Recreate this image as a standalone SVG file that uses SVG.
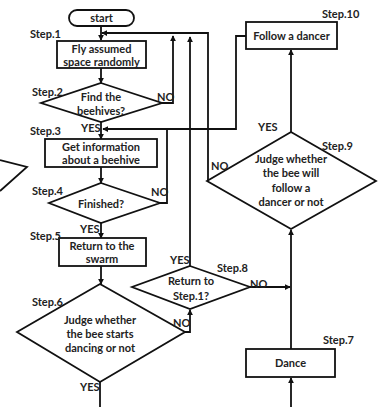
<svg xmlns="http://www.w3.org/2000/svg" width="384" height="407" viewBox="0 0 384 407">
<defs>
<marker id="ah" viewBox="0 0 8 8" refX="7" refY="4" markerWidth="6" markerHeight="6" orient="auto" markerUnits="userSpaceOnUse">
<path d="M0,0 L8,4 L0,8 z" fill="#111"/>
</marker>
<style>
.n{fill:#fff;stroke:#111;stroke-width:1.8}
.c{fill:none;stroke:#111;stroke-width:1.8}
.t{font-family:Lato,"Open Sans","Liberation Sans",sans-serif;font-weight:bold;font-size:11px;fill:#222;text-anchor:middle}
.s{font-family:Lato,"Open Sans","Liberation Sans",sans-serif;font-weight:bold;font-size:11px;fill:#222}
</style>
</defs>
<rect width="384" height="407" fill="#fff"/>
<g id="connectors">
<path class="c" d="M101,26 V40" marker-end="url(#ah)"/>
<path class="c" d="M208,181 V33 H102" marker-end="url(#ah)"/>
<path class="c" d="M101,68 V83" marker-end="url(#ah)"/>
<path class="c" d="M162,103 H173 V36" marker-end="url(#ah)"/>
<path class="c" d="M101,122 V139" marker-end="url(#ah)"/>
<path class="c" d="M246,36 H236 V129 H103" marker-end="url(#ah)"/>
<path class="c" d="M160,203 H167 V129"/>
<path class="c" d="M101,167 V183" marker-end="url(#ah)"/>
<path class="c" d="M101,223 V238" marker-end="url(#ah)"/>
<path class="c" d="M101,266 V284" marker-end="url(#ah)"/>
<path class="c" d="M100,382 V407"/>
<path class="c" d="M185,332 H190 V310" marker-end="url(#ah)"/>
<path class="c" d="M190,266 V37" marker-end="url(#ah)"/>
<path class="c" d="M250,287 H290" marker-end="url(#ah)"/>
<path class="c" d="M291,349 V230" marker-end="url(#ah)"/>
<path class="c" d="M291,407 V378" marker-end="url(#ah)"/>
<path class="c" d="M291,132 V50" marker-end="url(#ah)"/>
<polyline class="c" points="0,160 27,167 0,191"/>
</g>
<g id="start">
<rect class="n" x="69" y="10" width="65" height="16" rx="8"/>
<text class="t" x="101.5" y="22">start</text>
</g>
<g id="step1">
<rect class="n" x="57" y="41" width="89" height="27"/>
<text class="t" x="101.5" y="53">Fly assumed</text>
<text class="t" x="101.5" y="66">space randomly</text>
<text class="s" x="30" y="38">Step.1</text>
</g>
<g id="step2">
<polygon class="n" points="101,83 162,103 101,122 41,103"/>
<text class="t" x="101" y="101">Find the</text>
<text class="t" x="101" y="115">beehives?</text>
<text class="s" x="32" y="96">Step.2</text>
<text class="s" x="157" y="101">NO</text>
<text class="s" x="81" y="132">YES</text>
</g>
<g id="step3">
<rect class="n" x="45" y="139" width="112" height="28"/>
<text class="t" x="101" y="151">Get information</text>
<text class="t" x="101" y="164">about a beehive</text>
<text class="s" x="30" y="135">Step.3</text>
</g>
<g id="step4">
<polygon class="n" points="101,183 160,203 101,223 49,203"/>
<text class="t" x="101" y="208">Finished?</text>
<text class="s" x="32" y="195">Step.4</text>
<text class="s" x="151" y="196">NO</text>
<text class="s" x="80" y="233">YES</text>
</g>
<g id="step5">
<rect class="n" x="59" y="238" width="87" height="28"/>
<text class="t" x="102" y="250">Return to the</text>
<text class="t" x="102" y="263">swarm</text>
<text class="s" x="30" y="240">Step.5</text>
</g>
<g id="step6">
<polygon class="n" points="100,284 185,332 100,382 17,332"/>
<text class="t" x="100" y="324">Judge whether</text>
<text class="t" x="100" y="338">the bee starts</text>
<text class="t" x="100" y="352">dancing or not</text>
<text class="s" x="32" y="306">Step.6</text>
<text class="s" x="173" y="327">NO</text>
<text class="s" x="80" y="391">YES</text>
</g>
<g id="step8">
<polygon class="n" points="190,266 250,287 190,309 132,287"/>
<text class="t" x="191" y="285">Return to</text>
<text class="t" x="191" y="300">Step.1?</text>
<text class="s" x="217" y="272">Step.8</text>
<text class="s" x="250" y="288">NO</text>
<text class="s" x="170" y="264">YES</text>
</g>
<g id="step7">
<rect class="n" x="246" y="349" width="89" height="28"/>
<text class="t" x="290.5" y="367">Dance</text>
<text class="s" x="323" y="344">Step.7</text>
</g>
<g id="step9">
<polygon class="n" points="291,132 376,181 291,229 207,181"/>
<text class="t" x="291" y="163">Judge whether</text>
<text class="t" x="291" y="177">the bee will</text>
<text class="t" x="291" y="192">follow a</text>
<text class="t" x="291" y="206">dancer or not</text>
<text class="s" x="322" y="150">Step.9</text>
<text class="s" x="211" y="170">NO</text>
<text class="s" x="258" y="131">YES</text>
</g>
<g id="step10">
<rect class="n" x="246" y="22" width="91" height="27"/>
<text class="t" x="291.5" y="40">Follow a dancer</text>
<text class="s" x="322" y="18">Step.10</text>
</g>
</svg>
